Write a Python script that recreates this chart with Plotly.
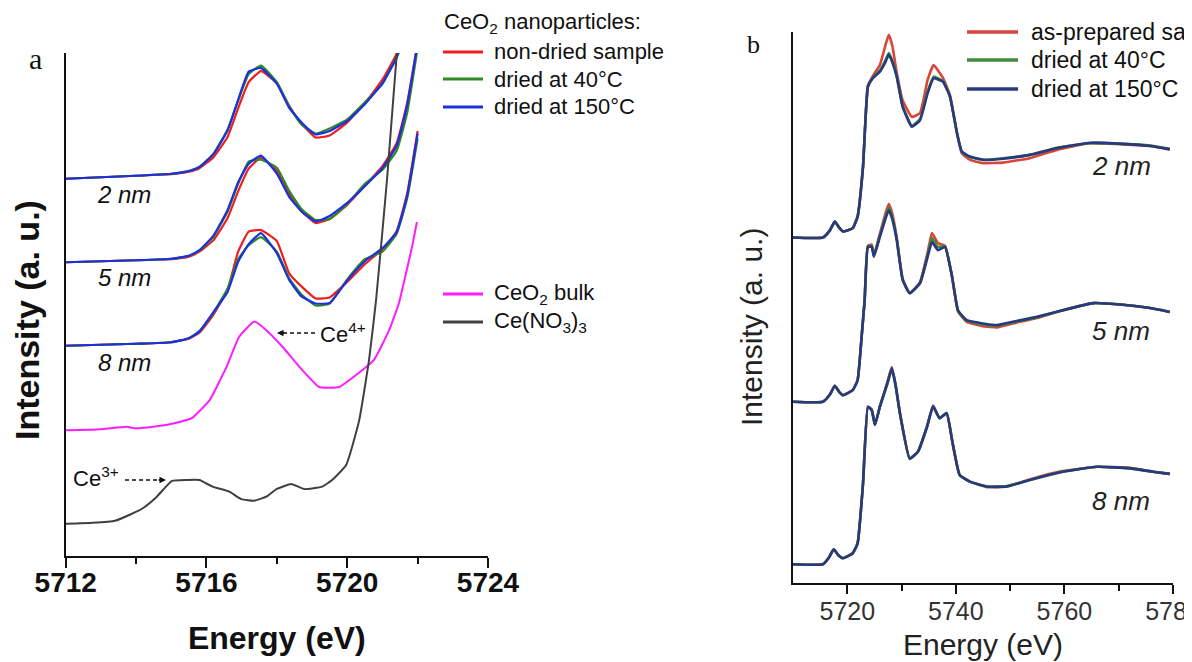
import plotly.graph_objects as go

# The page body has an 8 px margin, so the figure is placed at (8, 8) in the window.
OFF = 8
W, H = 1192 - OFF, 662 - OFF


def px(x):
    return (x - OFF) / W


def py(y):
    return 1 - (y - OFF) / H


# ---------------- Panel a data (Ce L3-edge pre-edge region) ----------------
E_A = [5712.0, 5713.0, 5714.0, 5715.0, 5715.5, 5715.8, 5716.2, 5716.6, 5716.9, 5717.2, 5717.55,
       5718.0, 5718.35, 5718.7, 5719.1, 5719.5, 5720.0, 5720.5, 5721.0, 5721.4, 5721.7, 5722.0]

A2_red = [7.50, 7.53, 7.56, 7.59, 7.64, 7.71, 7.93, 8.33, 8.90, 9.42, 9.64,
          9.40, 8.95, 8.60, 8.32, 8.36, 8.62, 9.00, 9.47, 9.98, 10.6, 11.3]
A2_green = [7.50, 7.53, 7.56, 7.60, 7.66, 7.74, 8.00, 8.48, 9.05, 9.58, 9.75,
            9.42, 8.95, 8.58, 8.40, 8.50, 8.68, 9.02, 9.38, 9.92, 10.5, 11.2]
A2_blue = [7.50, 7.53, 7.56, 7.60, 7.65, 7.73, 7.99, 8.46, 9.07, 9.63, 9.70,
           9.39, 8.91, 8.62, 8.38, 8.45, 8.65, 8.98, 9.40, 9.90, 10.5, 11.2]

A5_red = [5.84, 5.86, 5.88, 5.90, 5.95, 6.05, 6.28, 6.72, 7.25, 7.70, 7.92,
          7.66, 7.20, 6.86, 6.62, 6.70, 6.98, 7.36, 7.75, 8.20, 9.00, 10.2]
A5_green = [5.84, 5.86, 5.88, 5.91, 5.97, 6.07, 6.35, 6.85, 7.40, 7.84, 7.88,
            7.72, 7.26, 6.90, 6.68, 6.70, 7.00, 7.40, 7.68, 8.05, 8.80, 10.1]
A5_blue = [5.84, 5.86, 5.88, 5.91, 5.97, 6.08, 6.37, 6.88, 7.43, 7.80, 7.96,
           7.60, 7.14, 6.85, 6.65, 6.76, 7.02, 7.35, 7.71, 8.15, 8.95, 10.2]

A8_red = [4.18, 4.20, 4.22, 4.25, 4.32, 4.44, 4.80, 5.30, 6.05, 6.45, 6.48,
          6.26, 5.62, 5.36, 5.12, 5.14, 5.45, 5.80, 6.10, 6.45, 7.20, 8.45]
A8_green = [4.18, 4.20, 4.22, 4.25, 4.33, 4.47, 4.84, 5.32, 5.90, 6.18, 6.34,
            6.05, 5.52, 5.20, 4.98, 5.02, 5.50, 5.90, 6.05, 6.40, 7.10, 8.30]
A8_blue = [4.18, 4.20, 4.22, 4.25, 4.33, 4.46, 4.85, 5.25, 5.85, 6.20, 6.42,
           6.02, 5.49, 5.16, 5.02, 5.03, 5.48, 5.86, 6.12, 6.43, 7.15, 8.40]

E_bulk = [5712.0, 5712.97, 5713.74, 5713.96, 5714.59, 5715.15, 5715.58, 5716.09, 5716.57, 5716.93,
          5717.36, 5717.70, 5718.16, 5718.64, 5719.20, 5719.77, 5720.14, 5720.76, 5721.19, 5721.47,
          5721.56, 5721.84, 5721.98]
I_bulk = [2.50, 2.52, 2.57, 2.54, 2.58, 2.65, 2.74, 3.10, 3.76, 4.36,
          4.66, 4.49, 4.16, 3.76, 3.36, 3.36, 3.54, 3.90, 4.49, 5.03,
          5.29, 6.14, 6.64]

E_nitrate = [5712.0, 5712.77, 5713.40, 5713.82, 5714.19, 5714.59, 5715.01, 5715.44, 5715.80, 5716.17,
             5716.65, 5716.99, 5717.36, 5717.70, 5717.99, 5718.41, 5718.78, 5719.29, 5719.57, 5719.97,
             5720.34, 5720.62, 5720.82, 5721.13, 5721.41, 5721.50]
I_nitrate = [0.64, 0.66, 0.70, 0.82, 0.95, 1.18, 1.49, 1.51, 1.51, 1.38,
             1.28, 1.13, 1.10, 1.18, 1.33, 1.43, 1.33, 1.38, 1.51, 1.81,
             2.70, 3.90, 5.09, 7.48, 10.0, 10.6]

# ---------------- Panel b data (full XANES) ----------------
E_B2 = [5710.0, 5715.5, 5716.8, 5717.7, 5718.5, 5719.2, 5721.0, 5721.9, 5722.9, 5723.8, 5724.7, 5726.0,
        5727.0, 5727.65, 5728.3, 5729.1, 5730.2, 5731.9, 5733.4, 5734.8, 5735.9, 5737.6, 5738.9, 5740.2,
        5741.1, 5742.6, 5745.0, 5748.7, 5753.6, 5758.6, 5764.7, 5770.8, 5775.8, 5779.4]
B2_red = [6.27, 6.27, 6.40, 6.56, 6.45, 6.38, 6.44, 6.65, 7.56, 9.03, 9.20, 9.40,
          9.75, 9.95, 9.75, 9.27, 8.76, 8.46, 8.53, 9.13, 9.40, 9.17, 8.86, 8.17,
          7.80, 7.68, 7.62, 7.63, 7.71, 7.86, 7.98, 7.96, 7.93, 7.87]
B2_green = [6.27, 6.27, 6.40, 6.56, 6.45, 6.38, 6.44, 6.65, 7.56, 9.01, 9.17, 9.30,
            9.48, 9.62, 9.48, 9.21, 8.66, 8.30, 8.42, 8.92, 9.19, 9.11, 8.84, 8.17,
            7.82, 7.73, 7.68, 7.71, 7.77, 7.90, 7.98, 7.97, 7.94, 7.88]
B2_blue = [6.27, 6.27, 6.40, 6.56, 6.45, 6.38, 6.44, 6.65, 7.56, 9.01, 9.16, 9.28,
           9.45, 9.59, 9.45, 9.19, 8.64, 8.28, 8.40, 8.89, 9.16, 9.10, 8.83, 8.17,
           7.83, 7.74, 7.68, 7.70, 7.77, 7.89, 7.99, 7.97, 7.93, 7.87]

E_B5 = [5710.0, 5715.5, 5716.8, 5717.7, 5718.5, 5719.2, 5721.0, 5721.9, 5722.7, 5723.2, 5723.8, 5724.5,
        5724.9, 5726.0, 5727.0, 5727.65, 5728.3, 5729.1, 5730.2, 5731.5, 5733.4, 5734.8, 5735.6, 5736.7,
        5738.0, 5739.3, 5740.4, 5742.0, 5745.0, 5747.6, 5750.5, 5754.9, 5759.7, 5765.3,
        5770.8, 5775.8, 5779.4]
B5_red = [3.29, 3.29, 3.42, 3.58, 3.47, 3.41, 3.50, 3.68, 4.54, 5.14, 6.12, 6.14,
          5.96, 6.34, 6.70, 6.88, 6.70, 6.27, 5.52, 5.26, 5.46, 6.00, 6.35, 6.17,
          6.12, 5.56, 4.93, 4.74, 4.66, 4.64, 4.71, 4.81, 4.95, 5.08,
          5.05, 4.99, 4.92]
B5_green = [3.29, 3.29, 3.42, 3.58, 3.47, 3.41, 3.50, 3.68, 4.54, 5.14, 6.11, 6.12,
            5.94, 6.31, 6.64, 6.82, 6.64, 6.25, 5.51, 5.26, 5.45, 5.96, 6.26, 6.10,
            6.11, 5.56, 4.94, 4.76, 4.69, 4.67, 4.73, 4.82, 4.95, 5.08,
            5.05, 4.99, 4.92]
B5_blue = [3.29, 3.29, 3.42, 3.58, 3.47, 3.41, 3.50, 3.68, 4.54, 5.14, 6.10, 6.10,
           5.92, 6.28, 6.60, 6.77, 6.60, 6.23, 5.50, 5.26, 5.44, 5.92, 6.19, 6.04,
           6.10, 5.56, 4.95, 4.77, 4.71, 4.68, 4.74, 4.83, 4.95, 5.08,
           5.05, 4.99, 4.92]

E_B8 = [5710.0, 5715.5, 5716.6, 5717.5, 5718.4, 5719.2, 5721.0, 5721.9, 5722.9, 5723.8, 5724.5, 5725.1,
        5726.0, 5727.4, 5728.2, 5728.9, 5729.7, 5731.5, 5733.0, 5734.7, 5735.8, 5737.0, 5738.3, 5739.4,
        5740.7, 5742.6, 5745.7, 5749.4, 5753.6, 5759.7, 5766.0, 5772.1, 5776.3, 5779.4]
B8_red = [0.34, 0.34, 0.46, 0.61, 0.50, 0.45, 0.54, 0.72, 1.81, 3.20, 3.14, 2.87,
          3.20, 3.65, 3.92, 3.60, 3.08, 2.26, 2.38, 2.84, 3.22, 2.99, 3.09, 2.54,
          1.96, 1.84, 1.74, 1.75, 1.88, 2.03, 2.11, 2.09, 2.02, 1.98]
B8_green = [0.34, 0.34, 0.46, 0.61, 0.50, 0.45, 0.54, 0.72, 1.81, 3.20, 3.14, 2.87,
            3.20, 3.62, 3.88, 3.58, 3.08, 2.25, 2.38, 2.84, 3.20, 2.99, 3.08, 2.54,
            1.96, 1.84, 1.75, 1.76, 1.87, 2.02, 2.11, 2.08, 2.02, 1.98]
B8_blue = [0.34, 0.34, 0.46, 0.61, 0.50, 0.45, 0.54, 0.72, 1.81, 3.20, 3.14, 2.87,
           3.20, 3.63, 3.90, 3.59, 3.08, 2.26, 2.38, 2.84, 3.21, 2.99, 3.08, 2.54,
           1.96, 1.84, 1.75, 1.75, 1.87, 2.02, 2.11, 2.08, 2.02, 1.98]

TICKS_A = [5712, 5716, 5720, 5724]
MINOR_A = [5714, 5718, 5722]
TICKS_B = [5720, 5740, 5760, 5780]
MINOR_B = [5730, 5750, 5770]

LEGEND_A = ["non-dried sample", "dried at 40°C", "dried at 150°C"]
LEGEND_A2 = ["CeO<sub>2</sub> bulk", "Ce(NO<sub>3</sub>)<sub>3</sub>"]
LEGEND_B = ["as-prepared sample", "dried at 40°C", "dried at 150°C"]
SIZES = ["2 nm", "5 nm", "8 nm"]

COL_A = ["#ec1f1f", "#2f8a22", "#1c30e0"]
COL_BULK = "#ff1cff"
COL_NIT = "#404040"
COL_B = ["#d8453a", "#3f8c3a", "#283a7e"]

SANS = "Liberation Sans, Arial, sans-serif"
SERIF = "Liberation Serif, Times New Roman, serif"

fig = go.Figure()


def add(x, y, color, name, xa, ya, width):
    fig.add_trace(go.Scatter(x=x, y=y, mode="lines", name=name,
                             line=dict(color=color, width=width, shape="spline", smoothing=0.4),
                             xaxis=xa, yaxis=ya, showlegend=False))


for sets in [(A2_red, A2_green, A2_blue), (A5_red, A5_green, A5_blue), (A8_red, A8_green, A8_blue)]:
    for vals, col, nm in zip(sets, COL_A, LEGEND_A):
        add(E_A, vals, col, nm, "x", "y", 2.2)
add(E_bulk, I_bulk, COL_BULK, "CeO2 bulk", "x", "y", 2.0)
add(E_nitrate, I_nitrate, COL_NIT, "Ce(NO3)3", "x", "y", 2.0)

for ex, sets in [(E_B2, (B2_red, B2_green, B2_blue)), (E_B5, (B5_red, B5_green, B5_blue)),
                 (E_B8, (B8_red, B8_green, B8_blue))]:
    for vals, col, nm in zip(sets, COL_B, LEGEND_B):
        add(ex, vals, col, nm, "x2", "y2", 2.6)

axis_common = dict(showline=True, linecolor="#111", linewidth=2, showgrid=False, zeroline=False,
                   automargin=False)

fig.update_layout(
    width=W, height=H, template="none",
    margin=dict(l=0, r=0, t=0, b=0, pad=0),
    paper_bgcolor="white", plot_bgcolor="white",
    font=dict(family=SANS, color="#111"),
    showlegend=False,
    xaxis=dict(domain=[px(65.7), px(488)], range=[5712, 5724], anchor="y",
               tickvals=TICKS_A, ticktext=[str(t) for t in TICKS_A], ticks="outside",
               ticklen=10, tickwidth=2, tickcolor="#111", ticklabelstandoff=-10,
               ticklabeloverflow="allow",
               tickfont=dict(family=SANS, size=28, weight="bold", color="#111"),
               minor=dict(tickvals=MINOR_A, ticks="outside", ticklen=6, tickwidth=2, tickcolor="#111"),
               title=dict(text="Energy (eV)", font=dict(family=SANS, size=32, weight="bold", color="#111"),
                          standoff=30),
               **axis_common),
    yaxis=dict(domain=[py(556), py(53)], range=[0, 10], anchor="x", ticks="", showticklabels=False,
               **axis_common),
    xaxis2=dict(domain=[px(793), px(1173)], range=[5710, 5780], anchor="y2",
                tickvals=TICKS_B, ticktext=[str(t) for t in TICKS_B], ticks="outside",
                ticklen=9, tickwidth=2, tickcolor="#111", ticklabelstandoff=-4,
                ticklabeloverflow="allow",
                tickfont=dict(family=SANS, size=25, color="#333"),
                minor=dict(tickvals=MINOR_B, ticks="outside", ticklen=6, tickwidth=2, tickcolor="#111"),
                title=dict(text="Energy (eV)", font=dict(family=SANS, size=30, color="#222"),
                           standoff=10),
                **axis_common),
    yaxis2=dict(domain=[py(583), py(32)], range=[0, 10], anchor="x2", ticks="", showticklabels=False,
                **axis_common),
)

ann = []
shapes = []

# axis titles (y)
ann.append(dict(text="Intensity (a. u.)", x=px(27), y=py(320), xref="paper", yref="paper",
                textangle=-90, showarrow=False, xanchor="center", yanchor="middle",
                font=dict(family=SANS, size=34, weight="bold", color="#111")))
ann.append(dict(text="Intensity (a. u.)", x=px(752), y=py(327), xref="paper", yref="paper",
                textangle=-90, showarrow=False, xanchor="center", yanchor="middle",
                font=dict(family=SANS, size=30, color="#222")))

# panel letters
ann.append(dict(text="a", x=px(35), y=py(58), xref="paper", yref="paper", showarrow=False,
                xanchor="center", yanchor="middle", font=dict(family=SERIF, size=30, color="#111")))
ann.append(dict(text="b", x=px(753), y=py(44), xref="paper", yref="paper", showarrow=False,
                xanchor="center", yanchor="middle", font=dict(family=SERIF, size=26, color="#111")))

# size labels
for lab, yy in zip(SIZES, [194, 277, 362]):
    ann.append(dict(text="<i>%s</i>" % lab, x=px(124), y=py(yy), xref="paper", yref="paper",
                    showarrow=False, xanchor="center", yanchor="middle",
                    font=dict(family=SANS, size=24, color="#111")))
for lab, yy in zip(SIZES, [166, 331, 501]):
    ann.append(dict(text="<i>%s</i>" % lab, x=px(1121), y=py(yy), xref="paper", yref="paper",
                    showarrow=False, xanchor="center", yanchor="middle",
                    font=dict(family=SANS, size=26, color="#222")))

# legend panel a
ann.append(dict(text="CeO<sub>2</sub> nanoparticles:", x=px(442), y=py(23), xref="paper", yref="paper",
                showarrow=False, xanchor="left", yanchor="middle",
                font=dict(family=SANS, size=22, color="#111")))
for lab, col, yy in zip(LEGEND_A + LEGEND_A2, COL_A + [COL_BULK, COL_NIT], [52, 79, 107, 294, 322]):
    shapes.append(dict(type="line", xref="paper", yref="paper", x0=px(443), x1=px(483), y0=py(yy), y1=py(yy),
                       line=dict(color=col, width=3)))
    ann.append(dict(text=lab, x=px(492), y=py(yy), xref="paper", yref="paper", showarrow=False,
                    xanchor="left", yanchor="middle", font=dict(family=SANS, size=22, color="#111")))

# legend panel b
for lab, col, yy in zip(LEGEND_B, COL_B, [32, 60, 89]):
    shapes.append(dict(type="line", xref="paper", yref="paper", x0=px(967), x1=px(1018), y0=py(yy), y1=py(yy),
                       line=dict(color=col, width=3.5)))
    ann.append(dict(text=lab, x=px(1029), y=py(yy), xref="paper", yref="paper", showarrow=False,
                    xanchor="left", yanchor="middle", font=dict(family=SANS, size=23, color="#111")))

# Ce4+ / Ce3+ markers
ann.append(dict(text="Ce<sup>4+</sup>", x=px(318), y=py(333), xref="paper", yref="paper", showarrow=False,
                xanchor="left", yanchor="middle", font=dict(family=SANS, size=22, color="#111")))
shapes.append(dict(type="line", xref="paper", yref="paper", x0=px(315), x1=px(283), y0=py(333), y1=py(333),
                   line=dict(color="#111", width=1.3, dash="4px,3px")))
ann.append(dict(text="", x=px(277), y=py(333), xref="paper", yref="paper", showarrow=True, arrowhead=2,
                arrowsize=1, arrowwidth=1.3, arrowcolor="#111", ax=9, ay=0, standoff=0))

ann.append(dict(text="Ce<sup>3+</sup>", x=px(71), y=py(477), xref="paper", yref="paper", showarrow=False,
                xanchor="left", yanchor="middle", font=dict(family=SANS, size=22, color="#111")))
shapes.append(dict(type="line", xref="paper", yref="paper", x0=px(125), x1=px(159), y0=py(480), y1=py(480),
                   line=dict(color="#111", width=1.3, dash="4px,3px")))
ann.append(dict(text="", x=px(166), y=py(480), xref="paper", yref="paper", showarrow=True, arrowhead=2,
                arrowsize=1, arrowwidth=1.3, arrowcolor="#111", ax=-9, ay=0, standoff=0))

fig.update_layout(annotations=ann, shapes=shapes)
fig.write_html("out.html")
